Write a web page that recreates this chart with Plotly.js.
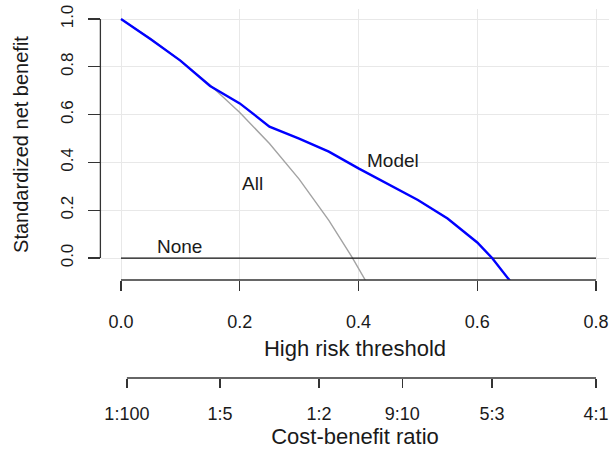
<!DOCTYPE html>
<html>
<head>
<meta charset="utf-8">
<script src="https://cdn.plot.ly/plotly-3.0.1.min.js"></script>
<style>html,body{margin:0;padding:0;background:#fff;}#chart{width:609px;height:452px;}</style>
</head>
<body>
<div id="chart"></div>
<script>
// Thresholds and standardized net benefit
const modelX = [0, 0.05, 0.10, 0.15, 0.20, 0.25, 0.30, 0.35, 0.40, 0.45, 0.50, 0.55, 0.60, 0.625, 0.655];
const modelY = [1.0, 0.915, 0.826, 0.72, 0.647, 0.55, 0.50, 0.445, 0.375, 0.31, 0.243, 0.165, 0.065, 0.0, -0.095];
const allX = [0, 0.05, 0.10, 0.15, 0.20, 0.25, 0.30, 0.35, 0.39, 0.412];
const allY = [1.0, 0.918, 0.826, 0.724, 0.609, 0.479, 0.330, 0.158, 0.0, -0.095];
const noneX = [0, 0.8];
const noneY = [0, 0];

const xTicks = [0, 0.2, 0.4, 0.6, 0.8];
const xTickText = ['0.0', '0.2', '0.4', '0.6', '0.8'];
const yTicks = [0, 0.2, 0.4, 0.6, 0.8, 1.0];
const yTickText = ['0.0', '0.2', '0.4', '0.6', '0.8', '1.0'];
const cbTicks = [0.0099, 0.1667, 0.3333, 0.4737, 0.625, 0.8];
const cbTickText = ['1:100', '1:5', '1:2', '9:10', '5:3', '4:1'];

const FONT = 'Liberation Sans, Arial, sans-serif';
const INK = '#1a1a1a';
const AXC = '#333';

const xRange = [-0.0337, 0.8219];
const yRange = [-0.092, 1.042];
const yDomain = [0.3593, 1];
const cbPos = 0.1277;
function yPaper(v) { return yDomain[0] + (v - yRange[0]) / (yRange[1] - yRange[0]) * (yDomain[1] - yDomain[0]); }

const traces = [
  {x: allX, y: allY, mode: 'lines', line: {color: '#a3a3a3', width: 1.4}, xaxis: 'x', yaxis: 'y'},
  {x: noneX, y: noneY, mode: 'lines', line: {color: '#111', width: 1.2}, xaxis: 'x', yaxis: 'y'},
  {x: modelX, y: modelY, mode: 'lines', line: {color: '#0000ff', width: 2.4}, xaxis: 'x', yaxis: 'y'},
  // invisible carrier so that the cost-benefit axis is drawn
  {x: cbTicks, y: cbTicks.map(() => 0.5), mode: 'markers', marker: {opacity: 0, size: 1}, xaxis: 'x2', yaxis: 'y'}
];

const layout = {
  width: 609, height: 452,
  margin: {l: 101, r: 0, t: 9, b: 20},
  paper_bgcolor: '#fff', plot_bgcolor: '#fff',
  showlegend: false,
  font: {family: FONT, color: INK},
  xaxis: {
    range: xRange, domain: [0, 1], anchor: 'y',
    tickvals: xTicks, ticktext: xTickText,
    ticks: 'outside', ticklen: 10, tickwidth: 1.3, tickcolor: AXC,
    showline: false, zeroline: false,
    showgrid: true, gridcolor: '#e8e8e8', gridwidth: 1,
    tickfont: {size: 18, color: INK},
    ticklabelstandoff: 15,
    title: {text: 'High risk threshold', font: {size: 22, color: INK}, standoff: 9}
  },
  xaxis2: {
    range: xRange, overlaying: 'x', anchor: 'free', position: cbPos, side: 'bottom',
    tickvals: cbTicks, ticktext: cbTickText,
    ticks: 'outside', ticklen: 9, tickwidth: 1.3, tickcolor: AXC,
    showline: false, zeroline: false, showgrid: false,
    tickfont: {size: 18, color: INK},
    ticklabelstandoff: 10,
    title: {text: 'Cost-benefit ratio', font: {size: 22, color: INK}, standoff: 6}
  },
  yaxis: {
    range: yRange, domain: yDomain,
    tickvals: yTicks, ticktext: yTickText,
    ticks: 'outside', ticklen: 12, tickwidth: 1.3, tickcolor: AXC,
    tickangle: -90,
    showline: false, zeroline: false,
    showgrid: true, gridcolor: '#e8e8e8', gridwidth: 1,
    tickfont: {size: 17, color: INK},
    ticklabelstandoff: 8,
    title: {text: 'Standardized net benefit', font: {size: 20, color: INK}, standoff: 24}
  },
  shapes: [
    {type: 'line', layer: 'above', xref: 'x', yref: 'paper', x0: xTicks[0], x1: xTicks[xTicks.length - 1], y0: yDomain[0], y1: yDomain[0], line: {color: AXC, width: 1.3}},
    {type: 'line', layer: 'above', xref: 'x2', yref: 'paper', x0: cbTicks[0], x1: cbTicks[cbTicks.length - 1], y0: cbPos, y1: cbPos, line: {color: AXC, width: 1.3}},
    {type: 'line', layer: 'above', xref: 'paper', yref: 'paper', x0: -0.0012, x1: -0.0012, y0: yPaper(yTicks[0]), y1: yPaper(yTicks[yTicks.length - 1]), line: {color: AXC, width: 1.3}}
  ],
  annotations: [
    {x: 0.099, y: 0.05, xref: 'x', yref: 'y', text: 'None', showarrow: false, font: {size: 19, color: INK}},
    {x: 0.222, y: 0.31, xref: 'x', yref: 'y', text: 'All', showarrow: false, font: {size: 19, color: INK}},
    {x: 0.458, y: 0.41, xref: 'x', yref: 'y', text: 'Model', showarrow: false, font: {size: 19, color: INK}}
  ]
};
Plotly.newPlot('chart', traces, layout, {displayModeBar: false, staticPlot: true});
</script>
</body>
</html>
